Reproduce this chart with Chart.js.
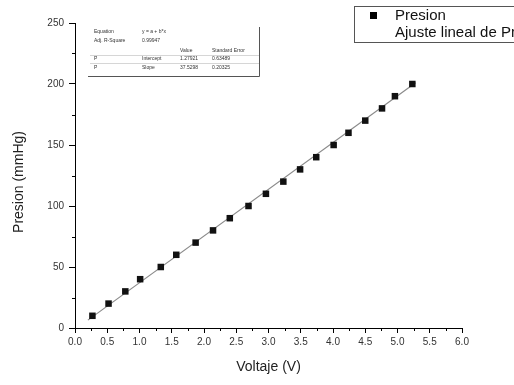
<!DOCTYPE html>
<html><head><meta charset="utf-8">
<script src="https://cdn.jsdelivr.net/npm/chart.js@4/dist/chart.umd.min.js"></script>
<style>html,body{margin:0;padding:0;background:#fff}#wrap{width:514px;height:385px}</style>
</head><body><div id="wrap"><canvas id="c" width="514" height="385"></canvas></div>
<script>
// Data
const voltaje = [0.27,0.52,0.78,1.01,1.33,1.57,1.87,2.14,2.40,2.69,2.96,3.23,3.49,3.74,4.01,4.24,4.50,4.76,4.96,5.23];
const presion = [10,20,30,40,50,60,70,80,90,100,110,120,130,140,150,160,170,180,190,200];
const fitX = [0.2, 5.28];
const fitIntercept = -1.2;
const fitSlope = 38.3;
const xTicks = [0,0.5,1,1.5,2,2.5,3,3.5,4,4.5,5,5.5,6];
const yTicks = [0,50,100,150,200,250];
const legendLabels = ['Presion','Ajuste lineal de Presion'];
const yTitle = 'Presion (mmHg)';
const xTitle = 'Voltaje (V)';
const tableRows = [
  ['Equation','y = a + b*x','',''],
  ['Adj. R-Square','0.99947','',''],
  ['','','Value','Standard Error'],
  ['P','Intercept','1.27921','0.63489'],
  ['P','Slope','37.5298','0.20325']
];

const FONT = '"Liberation Sans", Arial, sans-serif';
const pts = voltaje.map((v,i)=>({x:v,y:presion[i]}));
const fitPts = fitX.map(x=>({x:x,y:fitIntercept+fitSlope*x}));

const extras = {
  id:'extras',
  afterDraw(chart){
    const ctx = chart.ctx, xs = chart.scales.x, ys = chart.scales.y;
    ctx.save();
    ctx.strokeStyle = '#000'; ctx.lineWidth = 1;
    // minor ticks
    ctx.beginPath();
    for (let v=0.25; v<6; v+=0.5){ const px=Math.round(xs.getPixelForValue(v))+0.5; ctx.moveTo(px, ys.bottom); ctx.lineTo(px, ys.bottom+3); }
    for (let v=25; v<250; v+=50){ const py=Math.round(ys.getPixelForValue(v))+0.5; ctx.moveTo(xs.left, py); ctx.lineTo(xs.left-3, py); }
    ctx.stroke();
    // y title
    ctx.save();
    ctx.translate(19, 182); ctx.rotate(-Math.PI/2);
    ctx.font = '14px ' + FONT; ctx.fillStyle = '#222'; ctx.textAlign = 'center'; ctx.textBaseline = 'middle';
    ctx.fillText(yTitle, 0, 0);
    ctx.restore();
    // legend box
    ctx.strokeStyle = '#555';
    ctx.strokeRect(354.5, 6.5, 200, 36);
    ctx.fillStyle = '#000';
    ctx.fillRect(370, 12, 7, 7);
    ctx.font = '15px ' + FONT; ctx.textBaseline = 'middle'; ctx.textAlign = 'left';
    ctx.fillStyle = '#111';
    ctx.fillText(legendLabels[0], 395, 16);
    ctx.fillText(legendLabels[1], 395, 33);
    // inset table
    ctx.font = '5px ' + FONT; ctx.fillStyle = '#333';
    const colX = [94, 142, 180, 212];
    const rowY = [32, 41, 51, 59, 68];
    tableRows.forEach((r,ri)=>{ r.forEach((t,ci)=>{ if(t) ctx.fillText(t, colX[ci], rowY[ri]); }); });
    ctx.strokeStyle = '#bbb'; ctx.lineWidth = 0.6;
    ctx.beginPath();
    [55, 63].forEach(y=>{ctx.moveTo(90,y+0.5);ctx.lineTo(259,y+0.5);});
    ctx.stroke();
    ctx.strokeStyle = '#555'; ctx.lineWidth = 1;
    ctx.beginPath();
    ctx.moveTo(88, 76.5); ctx.lineTo(259.5, 76.5); ctx.lineTo(259.5, 27);
    ctx.stroke();
    ctx.restore();
  }
};

new Chart(document.getElementById('c'), {
  type:'scatter',
  data:{datasets:[
    {label:legendLabels[1], data:fitPts, showLine:true, borderColor:'#8a8a8a', borderWidth:1.2, pointRadius:0, order:2},
    {label:legendLabels[0], data:pts, pointStyle:'rect', pointRadius:4.6, backgroundColor:'#111', borderColor:'#111', borderWidth:0, order:1}
  ]},
  options:{
    responsive:false, animation:false, devicePixelRatio:1,
    layout:{padding:{left:0,right:52,top:23,bottom:0}},
    plugins:{legend:{display:false}, tooltip:{enabled:false}},
    scales:{
      x:{type:'linear', min:0, max:6,
        afterBuildTicks(s){ s.ticks = xTicks.map(v=>({value:v})); },
        afterFit(s){ s.height = 57; },
        ticks:{callback:v=>Number(v).toFixed(1), color:'#333', font:{family:FONT,size:10}, padding:3, maxRotation:0, autoSkip:false},
        grid:{drawOnChartArea:false, drawTicks:true, tickLength:5, color:'#000'},
        border:{display:true, color:'#000', width:1},
        title:{display:true, text:xTitle, color:'#222', font:{family:FONT,size:14}, padding:{top:0,bottom:9}}
      },
      y:{type:'linear', min:0, max:250,
        afterBuildTicks(s){ s.ticks = yTicks.map(v=>({value:v})); },
        afterFit(s){ s.width = 75; },
        ticks:{color:'#333', font:{family:FONT,size:10}, padding:5},
        grid:{drawOnChartArea:false, drawTicks:true, tickLength:6, color:'#000'},
        border:{display:true, color:'#000', width:1},
        title:{display:false}
      }
    }
  },
  plugins:[extras]
});
</script></body></html>
